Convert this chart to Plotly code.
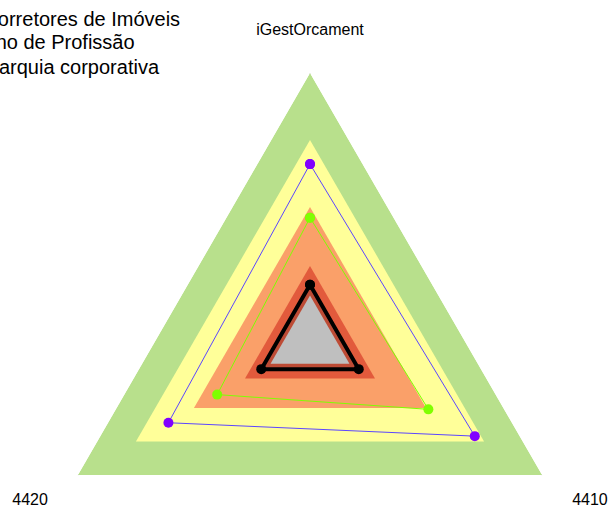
import plotly.graph_objects as go

# axes of the radar
categories = ['iGestOrcament', '4410', '4420']

# background bands (outer to inner)
band_levels = [100, 75, 50, 28, 21, 17]
band_colors = ['#b8e08c', '#ffff99', '#faa069', '#e25a3c', '#bd4b35', '#bfbfbf']

# series
series_names = ['Corretores de Imóveis', 'Ano de Profissão', 'Autarquia corporativa']
corretores = [66, 71, 61]
ano_profissao = [46, 51, 40]
autarquia = [21, 21, 21]

FONT = 'Liberation Sans, Arial, sans-serif'


def closed(values):
    return list(values) + [values[0]]


fig = go.Figure()

for level, color in zip(band_levels, band_colors):
    fig.add_trace(go.Scatterpolar(
        r=closed([level] * len(categories)),
        theta=closed(categories),
        mode='lines',
        fill='toself',
        fillcolor=color,
        line=dict(width=0, color=color),
        hoverinfo='skip',
        showlegend=False,
    ))

line_styles = [
    dict(values=corretores, line=dict(color='#5c46ff', width=1), marker=dict(color='#8000ff', size=10), legend='legend'),
    dict(values=ano_profissao, line=dict(color='#7fff00', width=1), marker=dict(color='#7fff00', size=10), legend='legend2'),
    dict(values=autarquia, line=dict(color='black', width=4), marker=dict(color='black', size=10), legend='legend3'),
]

for name, style in zip(series_names, line_styles):
    fig.add_trace(go.Scatterpolar(
        r=closed(style['values']),
        theta=closed(categories),
        mode='lines+markers',
        name=name,
        line=style['line'],
        marker=style['marker'],
        legend=style['legend'],
    ))

legend_common = dict(font=dict(family=FONT, size=20, color='black'), xanchor='left', yanchor='top',
                     bgcolor='rgba(0,0,0,0)')

fig.update_layout(
    template='none',
    width=609,
    height=680,
    margin=dict(l=42, r=31, t=73, b=71, autoexpand=False),
    paper_bgcolor='white',
    font=dict(family=FONT, color='black'),
    polar=dict(
        gridshape='linear',
        bgcolor='white',
        radialaxis=dict(range=[0, 100], visible=False, showgrid=False),
        angularaxis=dict(
            type='category',
            categoryorder='array',
            categoryarray=categories,
            rotation=90,
            direction='clockwise',
            showline=False,
            showgrid=True,
            gridcolor='#dcdcdc',
            gridwidth=1,
            layer='above traces',
            ticks='outside',
            ticklen=31,
            tickcolor='rgba(0,0,0,0)',
            tickfont=dict(family=FONT, size=16, color='black'),
        ),
    ),
    legend=dict(x=-0.184, y=1.138, **legend_common),
    legend2=dict(x=-0.186, y=1.095, **legend_common),
    legend3=dict(x=-0.211, y=1.049, **legend_common),
)

# page margin off so the figure sits at the window's corner and nothing is cut at the right
fig.write_html('out.html', config={'displayModeBar': False},
               post_script="document.body.style.margin='0';")
